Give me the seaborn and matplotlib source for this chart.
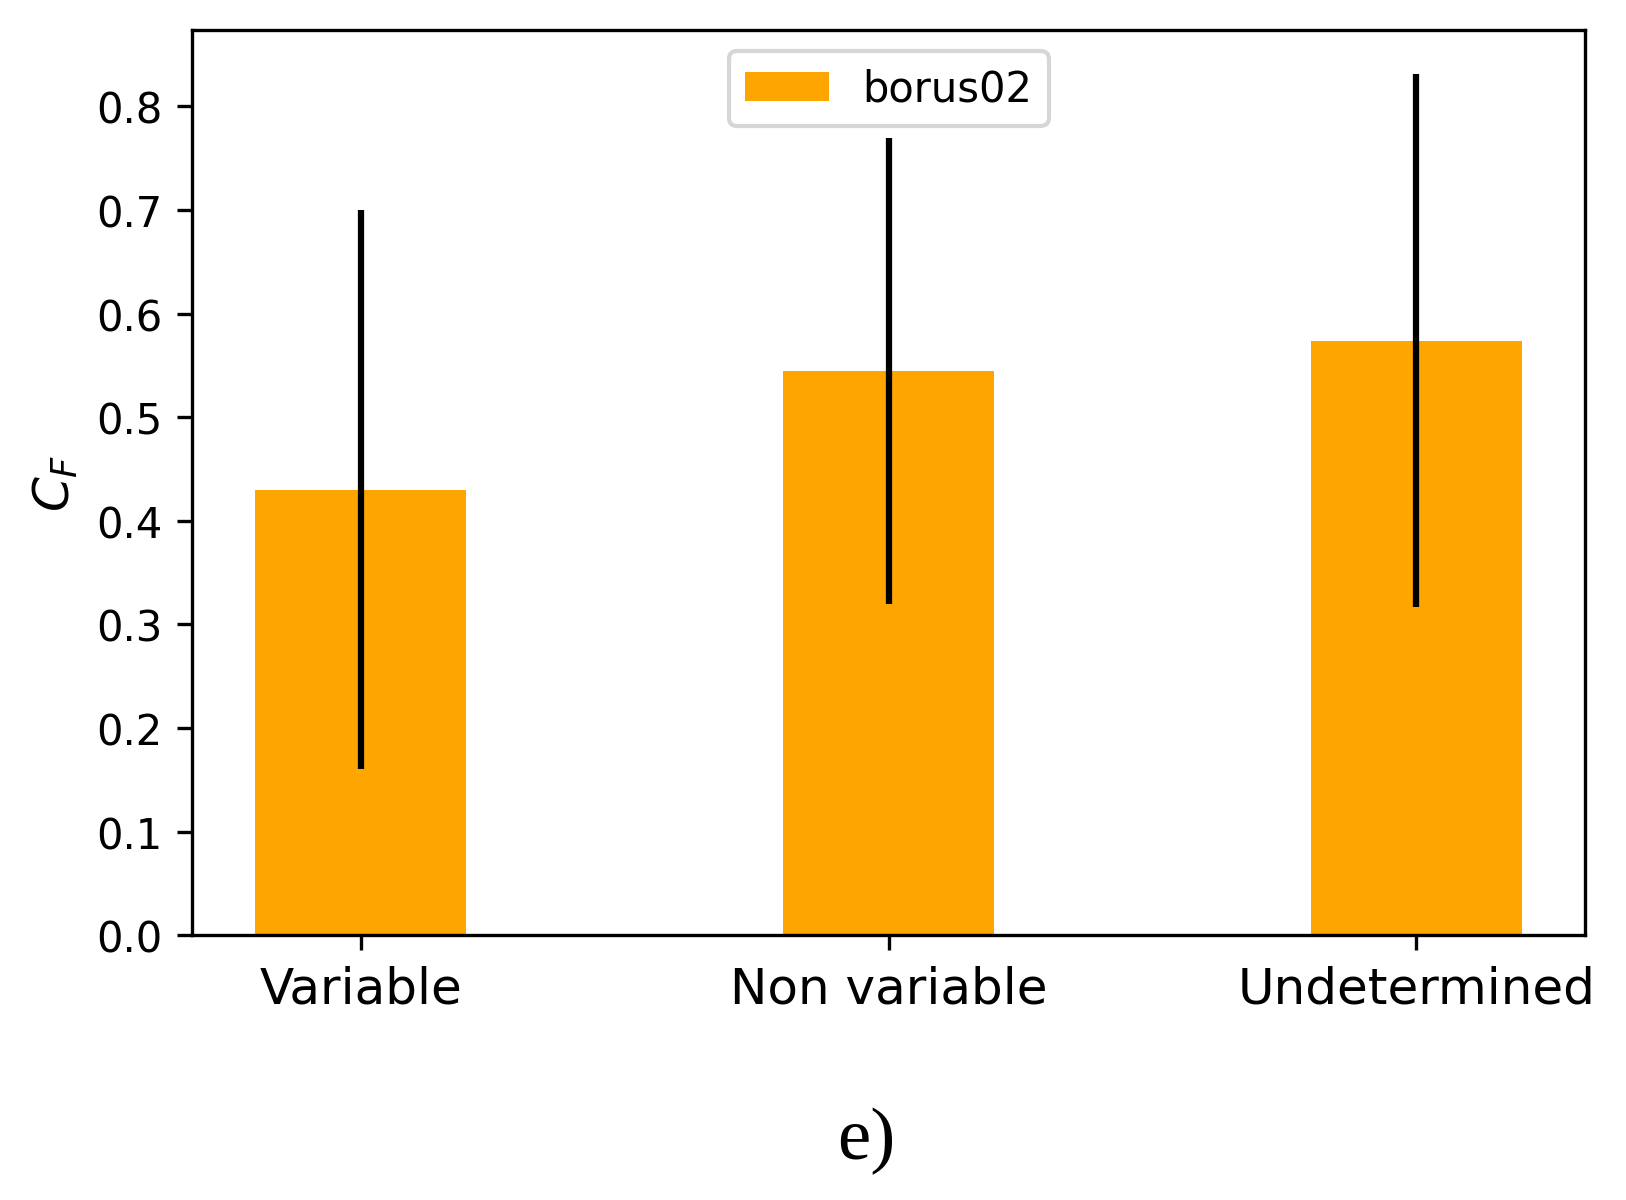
import matplotlib
matplotlib.use("Agg")
import matplotlib.pyplot as plt
import seaborn as sns
import pandas as pd

categories = ["Variable", "Non variable", "Undetermined"]
cf_values = [0.430, 0.545, 0.574]
cf_errors = [0.270, 0.225, 0.257]
series_name = "borus02"

df = pd.DataFrame({"cls": categories, "cf": cf_values})

fig, ax = plt.subplots(figsize=(5.42, 4.0033), dpi=300)
fig.subplots_adjust(left=0.118, right=0.975, top=0.974, bottom=0.2205)

sns.barplot(data=df, x="cls", y="cf", color="orange", width=0.4,
            saturation=1, label=series_name, ax=ax)
ax.errorbar(range(len(categories)), cf_values, yerr=cf_errors, fmt="none",
            ecolor="black", elinewidth=1.5, capsize=0)

ax.set_xlim(-0.32, 2.32)
ax.set_ylim(0, 0.8736)
ax.set_xlabel("")
ax.set_ylabel(r"$C_F$", fontsize=12)
ax.tick_params(axis="x", labelsize=12)
ax.tick_params(axis="y", labelsize=10)
ax.legend(loc="upper center", fontsize=10)

fig.text(0.533, 0.05, "e)", family="Liberation Serif", fontsize=18,
         ha="center", va="center")

plt.savefig("out.png", dpi=300)
